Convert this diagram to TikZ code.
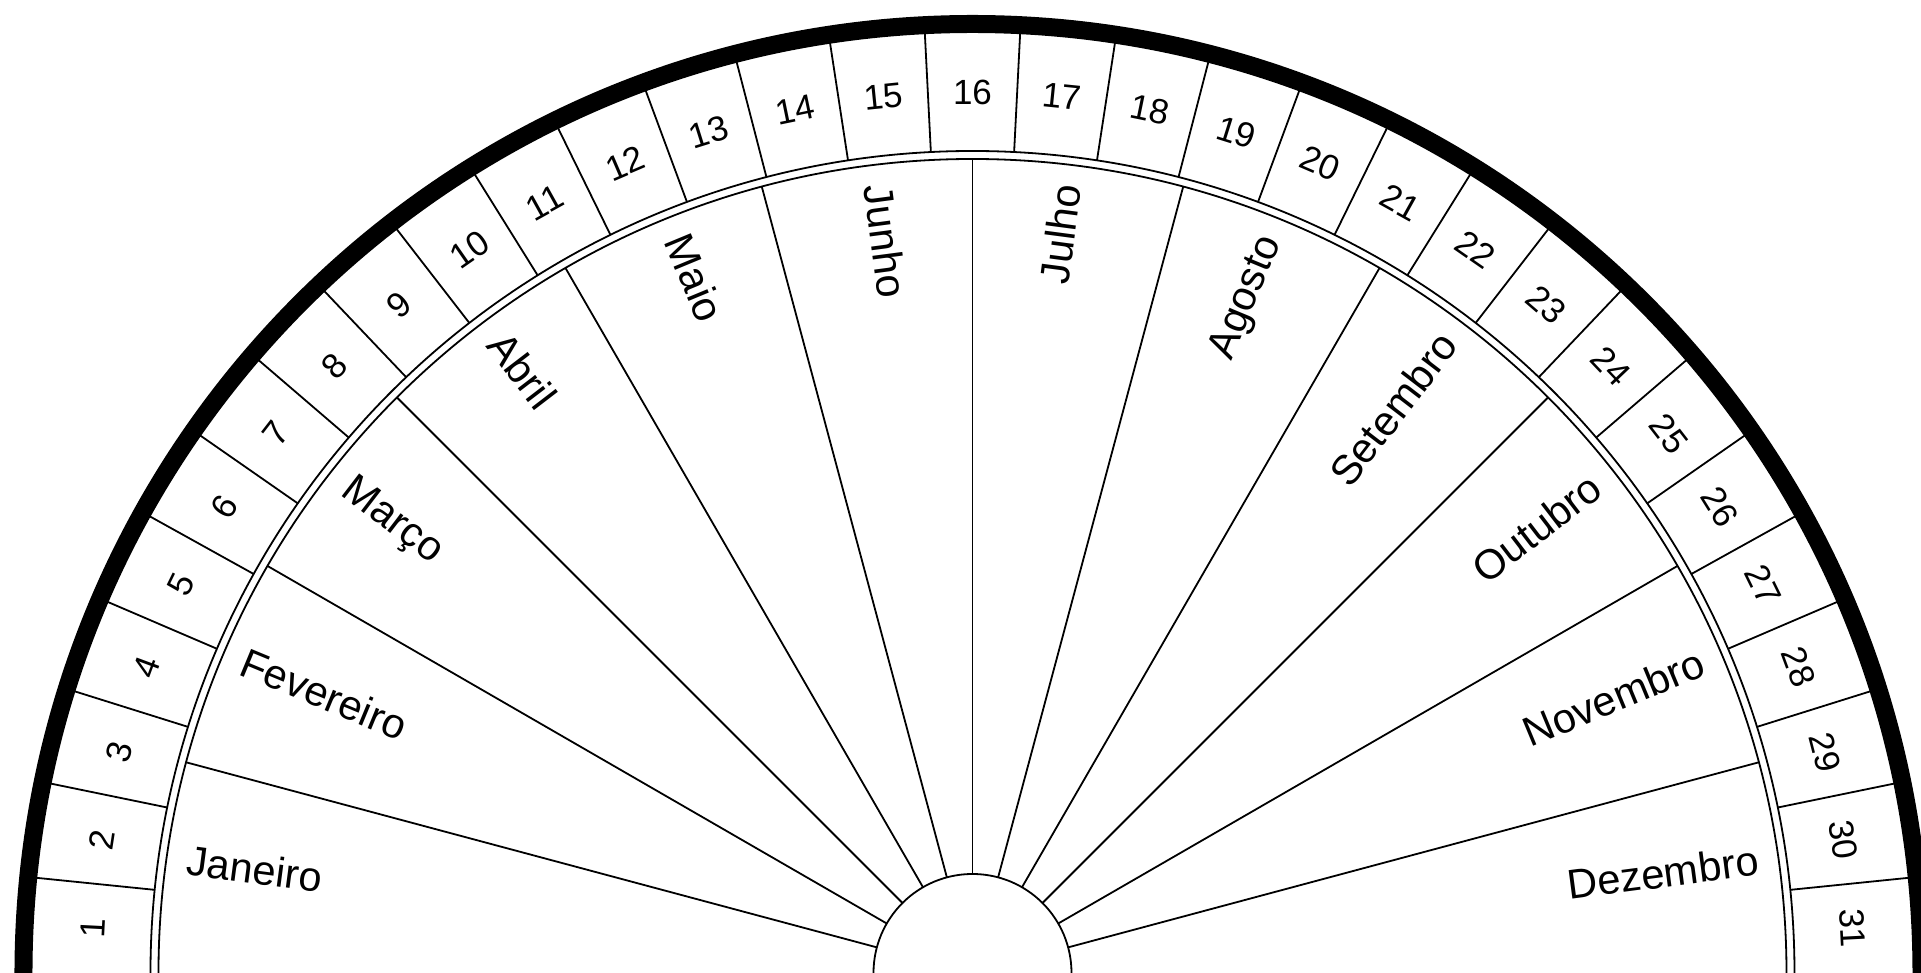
\documentclass[tikz,border=0pt]{standalone}
\usepackage{fontspec}
\setmainfont{Liberation Sans}
\begin{document}
\begin{tikzpicture}[x=0.5pt,y=0.5pt,
  thinline/.style={line width=0.9pt, draw=black},
  rimline/.style={line width=9pt, draw=black},
  daylabel/.style={inner sep=0pt, font=\fontsize{17.5}{21}\selectfont},
  monthlabel/.style={inner sep=0pt, font=\fontsize{20.8}{25}\selectfont}]
\useasboundingbox (-972.5,0) rectangle (948.5,973);
\clip (-972.5,0) rectangle (948.5,973);
\coordinate (O) at (0,0);
% outer black rim
\draw[rimline] (0:949) arc (0:180:949);
% double ring
\draw[thinline] (0:822) arc (0:180:822);
\draw[thinline] (0:814) arc (0:180:814);
% hub
\draw[thinline] (O) circle (99);
% day separators
\foreach \k in {1,...,30} {
  \pgfmathsetmacro\ang{180-\k*180/31}
  \draw[thinline] (\ang:822) -- (\ang:945);
}
% month separators
\foreach \k in {1,...,11} {
  \pgfmathsetmacro\ang{180-15*\k}
  \draw[thinline] (\ang:99) -- (\ang:814);
}
% day labels
\foreach \d in {1,...,31} {
  \pgfmathsetmacro\ang{180-(\d-0.5)*180/31}
  \pgfmathsetmacro\rot{\ang-90}
  \node[daylabel, rotate=\rot] (d\d) at (\ang:881) {\d};
}
% month labels, left half
\foreach \m/\name in {1/Janeiro,2/Fevereiro,3/Março,4/Abril,5/Maio,6/Junho} {
  \pgfmathsetmacro\ang{180-15*\m+7.5}
  \pgfmathsetmacro\rot{\ang-180}
  \node[monthlabel, rotate=\rot, anchor=mid west] (m\m) at (\ang:794) {\name};
}
% month labels, right half
\foreach \m/\name in {7/Julho,8/Agosto,9/Setembro,10/Outubro,11/Novembro,12/Dezembro} {
  \pgfmathsetmacro\ang{180-15*\m+7.5}
  \node[monthlabel, rotate=\ang, anchor=mid east] (m\m) at (\ang:794) {\name};
}
\end{tikzpicture}
\end{document}
